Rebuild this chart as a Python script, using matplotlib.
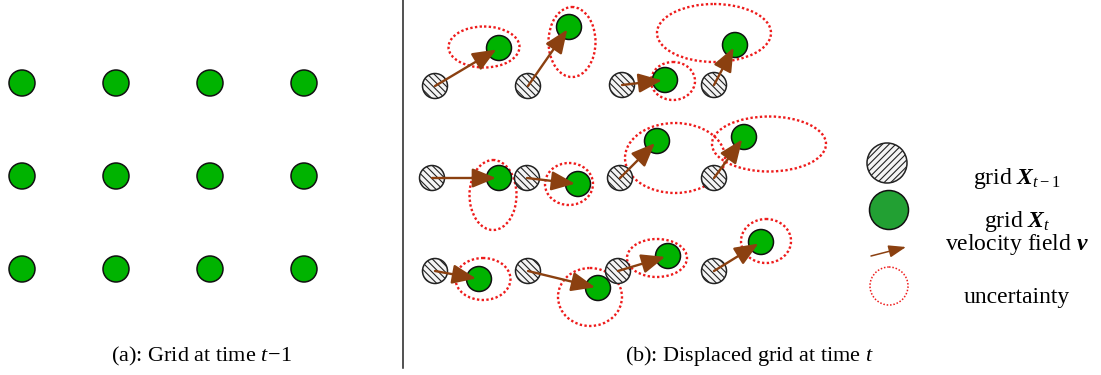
import matplotlib.pyplot as plt
from matplotlib.patches import Circle, Ellipse, FancyArrowPatch

plt.rcParams["font.family"] = ["Liberation Serif", "DejaVu Serif"]
plt.rcParams["mathtext.fontset"] = "custom"
plt.rcParams["mathtext.rm"] = "Liberation Serif"
plt.rcParams["mathtext.it"] = "Liberation Serif:italic"
plt.rcParams["mathtext.bf"] = "Liberation Serif:bold:italic"
plt.rcParams["hatch.color"] = "#999999"
plt.rcParams["hatch.linewidth"] = 0.8

# regular grid at time t-1 (left panel), canvas units
grid_x = [22, 116, 210, 304]
grid_y = [83, 176, 269]

# previous grid points in the displaced panel, one list per row
prev_x = [[435, 528, 622, 714],
          [432, 527, 620, 714],
          [435, 528, 618, 714]]
prev_y = [[86, 86, 85, 85],
          [178, 178, 178, 178],
          [271, 271, 271, 271]]

# velocity field v (displacement of every point)
vel_x = [[64, 41, 43, 21],
         [67, 51, 37, 30],
         [44, 70, 50, 47]]
vel_y = [[-38, -59, -5, -40],
         [0, 6, -37, -41],
         [8, 17, -15, -29]]

# uncertainty ellipses: centre, width, height
unc_cx = [[484, 572, 673, 714],
          [493, 569, 675, 769],
          [483, 590, 657, 766]]
unc_cy = [[47, 42, 81, 33],
          [195, 184, 158, 144],
          [279, 297, 258, 241]]
unc_w = [[71, 47, 44, 114],
         [47, 48, 100, 114],
         [55, 64, 60, 50]]
unc_h = [[41, 70, 38, 58],
         [70, 42, 70, 55],
         [42, 58, 38, 44]]

legend_labels = [r"grid $\mathbf{X}_{t-1}$", r"grid $\mathbf{X}_t$",
                 r"velocity field $\mathbf{v}$", "uncertainty"]

GREEN = "#00b300"
GREEN_LEG = "#22a033"
BROWN = "#8b4010"
RED = "#ee1c1c"
R = 12.5

fig = plt.figure(figsize=(11.01, 3.75), dpi=100)
ax = fig.add_axes([0, 0, 1, 1])
ax.set_xlim(0, 1101)
ax.set_ylim(375, 0)
ax.axis("off")

# ---- left panel ----
for gy in grid_y:
    for gx in grid_x:
        ax.add_patch(Circle((gx, gy), 13, fc=GREEN, ec="#111111", lw=1.1, zorder=3))

ax.plot([403, 403], [0, 368], color="#222222", lw=1.1)

# ---- right panel ----
for i in range(3):
    for j in range(4):
        x0, y0 = prev_x[i][j], prev_y[i][j]
        x1, y1 = x0 + vel_x[i][j], y0 + vel_y[i][j]
        ax.add_patch(Ellipse((unc_cx[i][j], unc_cy[i][j]), unc_w[i][j], unc_h[i][j],
                             fill=False, ec=RED, lw=1.7, ls=(0, (1, 1)), zorder=1))
        ax.add_patch(Circle((x0, y0), R, fc="#f4f4f4", ec="#222222", lw=1.1,
                            hatch="\\\\\\\\\\", zorder=2))
        ax.add_patch(Circle((x1, y1), R, fc=GREEN, ec="#111111", lw=1.1, zorder=3))
        d = (vel_x[i][j] ** 2 + vel_y[i][j] ** 2) ** 0.5
        ex, ey = x1 - 3 * vel_x[i][j] / d, y1 - 3 * vel_y[i][j] / d
        ax.add_patch(FancyArrowPatch((x0, y0), (ex, ey),
                                     arrowstyle="-|>,head_length=0.85,head_width=0.35",
                                     mutation_scale=17, color=BROWN, lw=1.7,
                                     shrinkA=0, shrinkB=0, zorder=4))

# ---- legend ----
ax.add_patch(Circle((887, 163), 20, fc="#f4f4f4", ec="#222222", lw=1.1,
                    hatch="/////", zorder=2))
ax.add_patch(Circle((889, 210), 19.5, fc=GREEN_LEG, ec="#111111", lw=1.1, zorder=2))
ax.add_patch(FancyArrowPatch((871, 256), (906, 247),
                             arrowstyle="-|>,head_length=0.7,head_width=0.25",
                             mutation_scale=15, color=BROWN, lw=1.1,
                             shrinkA=0, shrinkB=0, zorder=2))
ax.add_patch(Circle((889, 286), 19, fill=False, ec=RED, lw=1.1, ls=(0, (1, 1.2))))

for label, yb in zip(legend_labels, [184, 227, 250, 303]):
    ax.text(1017, yb, label, fontsize=17, ha="center", va="baseline")

# ---- captions ----
ax.text(202, 361, r"(a): Grid at time $t\!-\!1$", fontsize=16, ha="center", va="baseline")
ax.text(749, 361, r"(b): Displaced grid at time $t$", fontsize=16, ha="center", va="baseline")

fig.savefig("out.png", dpi=100)
